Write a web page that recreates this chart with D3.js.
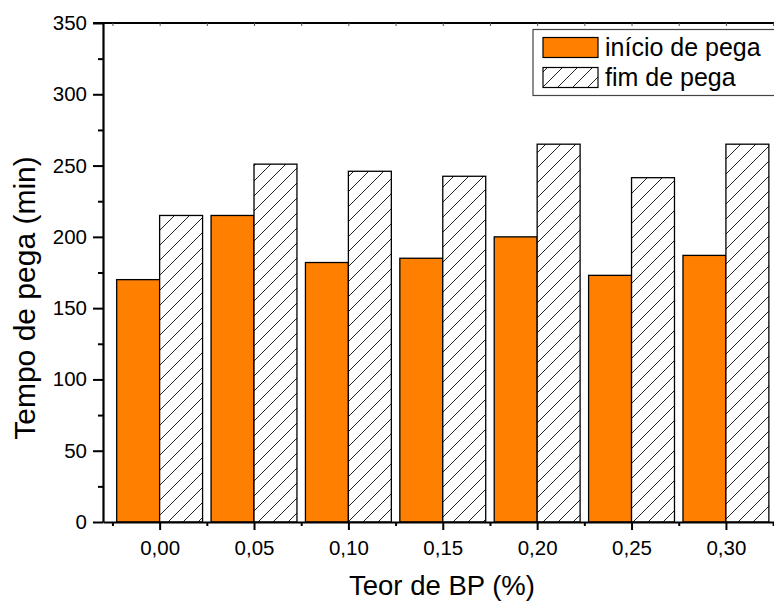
<!DOCTYPE html>
<html>
<head>
<meta charset="utf-8">
<script src="https://cdn.jsdelivr.net/npm/d3@7"></script>
<style>
  html, body { margin: 0; padding: 0; background: #fff; }
  svg { display: block; font-family: "Liberation Sans", Arial, sans-serif; }
</style>
</head>
<body>
<svg id="chart" width="774" height="602"></svg>
<script>
// ---- data ----
const categories = ["0,00", "0,05", "0,10", "0,15", "0,20", "0,25", "0,30"];
const inicioPega = [170, 215, 182, 185, 200, 173, 187];
const fimPega    = [215, 251, 246, 242.5, 265, 241.5, 265];
const yTicks = [0, 50, 100, 150, 200, 250, 300, 350];
const seriesNames = ["início de pega", "fim de pega"];

(function () {
const svg = d3.select("#chart");
const pL = 103, pR = 775, pT = 23, pB = 522;

const x = d3.scaleLinear().domain([-0.6, 6.52]).range([pL, pR]);
const y = d3.scaleLinear().domain([0, 350]).range([pB, pT]);
const barW = 0.455;

// hatch pattern
const defs = svg.append("defs");
const pat = defs.append("pattern")
  .attr("id", "hatch").attr("patternUnits", "userSpaceOnUse")
  .attr("width", 15).attr("height", 15);
pat.append("rect").attr("width", 15).attr("height", 15).attr("fill", "#fff");
pat.append("path")
  .attr("d", "M0,15 L15,0 M-4,4 L4,-4 M11,19 L19,11")
  .attr("stroke", "#222").attr("stroke-width", 1);

// bars
const idx = d3.range(categories.length);
svg.append("g").selectAll("rect").data(idx).join("rect")
  .attr("x", i => x(i - barW))
  .attr("width", i => x(i) - x(i - barW))
  .attr("y", i => y(inicioPega[i]))
  .attr("height", i => y(0) - y(inicioPega[i]))
  .attr("fill", "#FF8000").attr("stroke", "#000").attr("stroke-width", 1.3);

svg.append("g").selectAll("rect").data(idx).join("rect")
  .attr("x", i => x(i))
  .attr("width", i => x(i + barW) - x(i))
  .attr("y", i => y(fimPega[i]))
  .attr("height", i => y(0) - y(fimPega[i]))
  .attr("fill", "url(#hatch)").attr("stroke", "#000").attr("stroke-width", 1.3);

// axes
const minorY = d3.range(25, 350, 50);
const yAxis = svg.append("g").attr("transform", `translate(${pL},0)`)
  .call(d3.axisLeft(y).tickValues(yTicks).tickSize(10).tickSizeOuter(0).tickPadding(6).tickFormat(d3.format("d")));
yAxis.attr("font-size", 20.5).attr("font-family", "Liberation Sans, Arial, sans-serif");
yAxis.select(".domain").attr("stroke-width", 2.2);
yAxis.selectAll(".tick line").attr("stroke-width", 2);
yAxis.selectAll(".tick text").attr("fill", "#000");
svg.append("g").attr("transform", `translate(${pL},0)`)
  .call(d3.axisLeft(y).tickValues(minorY).tickSize(5).tickSizeOuter(0).tickFormat(""))
  .call(g => g.select(".domain").remove())
  .selectAll(".tick line").attr("stroke-width", 2);

const xAxis = svg.append("g").attr("transform", `translate(0,${pB})`)
  .call(d3.axisBottom(x).tickValues(idx).tickSize(8).tickSizeOuter(0).tickPadding(10)
    .tickFormat(i => categories[i]));
xAxis.attr("font-size", 20.5).attr("font-family", "Liberation Sans, Arial, sans-serif");
xAxis.select(".domain").attr("stroke-width", 2.2);
xAxis.selectAll(".tick line").attr("stroke-width", 2);
xAxis.selectAll(".tick text").attr("fill", "#000");
const minorX = d3.range(-0.5, 6.6, 1);
svg.append("g").attr("transform", `translate(0,${pB})`)
  .call(d3.axisBottom(x).tickValues(minorX).tickSize(4).tickSizeOuter(0).tickFormat(""))
  .call(g => g.select(".domain").remove())
  .selectAll(".tick line").attr("stroke-width", 2);

// top frame with tiny inward ticks
svg.append("line").attr("x1", pL - 10).attr("x2", pR).attr("y1", pT).attr("y2", pT)
  .attr("stroke", "#000").attr("stroke-width", 2.2);
svg.append("g").attr("transform", `translate(0,${pT})`)
  .call(d3.axisTop(x).tickValues(idx.concat(minorX)).tickSize(-3).tickSizeOuter(0).tickFormat(""))
  .call(g => g.select(".domain").remove())
  .selectAll(".tick line").attr("stroke-width", 1).attr("stroke", "#555");

// axis titles
svg.append("text").attr("x", 442).attr("y", 595).attr("text-anchor", "middle")
  .attr("font-size", 27.5).text("Teor de BP (%)");
svg.append("text").attr("transform", "translate(35,298) rotate(-90)")
  .attr("text-anchor", "middle").attr("font-size", 30).text("Tempo de pega (min)");

// legend
const lg = svg.append("g");
lg.append("rect").attr("x", 533).attr("y", 29.5).attr("width", 260).attr("height", 66)
  .attr("fill", "#fff").attr("stroke", "#444").attr("stroke-width", 1.2);
const fills = ["#FF8000", "url(#hatch)"];
seriesNames.forEach((name, k) => {
  const yy = 37.5 + k * 30;
  lg.append("rect").attr("x", 543).attr("y", yy).attr("width", 55).attr("height", 20)
    .attr("fill", fills[k]).attr("stroke", "#000").attr("stroke-width", 1.2);
  lg.append("text").attr("x", 605).attr("y", yy + 18.5).attr("font-size", 25).text(name);
});
})();
</script>
</body>
</html>
